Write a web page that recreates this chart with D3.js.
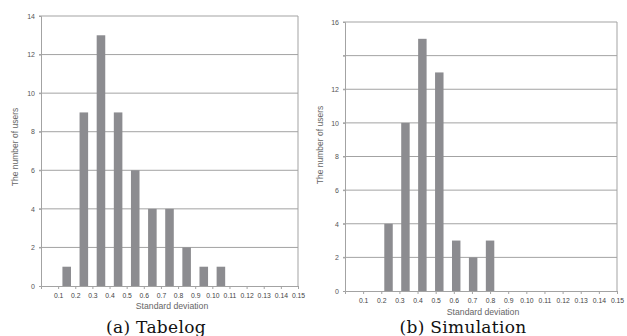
<!DOCTYPE html>
<html>
<head>
<meta charset="utf-8">
<script src="https://cdn.jsdelivr.net/npm/d3@7"></script>
<style>
  body { margin: 0; background: #fff; }
  text { font-family: "Liberation Sans", Arial, sans-serif; }
</style>
</head>
<body>
<div id="chart"></div>
<script>
// x categories (standard deviation bins), as printed on the axis
const sdLabels = ["0.1","0.2","0.3","0.4","0.5","0.6","0.7","0.8","0.9","0.10","0.11","0.12","0.13","0.14","0.15"];
// number of users per bin
const tabelogCounts = [1, 9, 13, 9, 6, 4, 4, 2, 1, 1, 0, 0, 0, 0];
const simulationCounts = [0, 4, 10, 15, 13, 3, 2, 3, 0, 0, 0, 0, 0, 0, 0];
const tabelogYTicks = [0, 2, 4, 6, 8, 10, 12, 14];
const simulationYTicks = [0, 2, 4, 6, 8, 10, 12, 14, 16];
const simulationHiddenTicks = [14];

const svg = d3.select("#chart")
  .append("svg")
  .attr("width", 627)
  .attr("height", 336);

function drawPanel(opt){
  const x = d3.scaleLinear()
    .domain([0, sdLabels.length])
    .range([opt.left, opt.right]);
  const y = d3.scaleLinear()
    .domain([0, d3.max(opt.yTicks)])
    .range([opt.bottom, opt.top]);

  // bars sit in their own bands, starting at the first label
  const band = d3.scaleBand()
    .domain(sdLabels.slice(0, opt.counts.length))
    .range([x(1), x(sdLabels.length)])
    .paddingInner(0.5)
    .paddingOuter(0.25);

  const g = svg.append("g");

  // gridlines
  g.selectAll(".grid")
    .data(opt.yTicks.filter(d => d > 0))
    .enter().append("line")
    .attr("x1", opt.left - 2)
    .attr("x2", opt.right)
    .attr("y1", d => y(d))
    .attr("y2", d => y(d))
    .attr("stroke", "#a3a3a3")
    .attr("stroke-width", 1);

  // right border
  g.append("line")
    .attr("x1", opt.right).attr("x2", opt.right)
    .attr("y1", opt.top).attr("y2", opt.bottom)
    .attr("stroke", "#a3a3a3");

  // bars
  g.selectAll(".bar")
    .data(opt.counts.map((v, i) => ({key: sdLabels[i], value: v})).filter(d => d.value > 0))
    .enter().append("rect")
    .attr("x", d => band(d.key))
    .attr("width", band.bandwidth())
    .attr("y", d => y(d.value))
    .attr("height", d => y(0) - y(d.value))
    .attr("fill", "#8c8c90");

  // y axis
  const yAxis = d3.axisLeft(y)
    .tickValues(opt.yTicks)
    .tickSize(2)
    .tickPadding(4)
    .tickFormat(d => opt.hidden.includes(d) ? "" : d);
  const ya = g.append("g")
    .attr("transform", "translate(" + opt.left + ",0)")
    .call(yAxis);
  ya.select(".domain").attr("stroke", "#a3a3a3");
  ya.selectAll(".tick line").attr("stroke", "#a3a3a3");
  ya.selectAll(".tick text")
    .attr("fill", "#555")
    .style("font-size", "7px")
    .style("font-family", "Liberation Sans, Arial, sans-serif");

  // x axis
  const xAxis = d3.axisBottom(x)
    .tickValues(d3.range(1, sdLabels.length + 1))
    .tickSize(3)
    .tickPadding(4)
    .tickFormat(d => sdLabels[d - 1]);
  const xa = g.append("g")
    .attr("transform", "translate(0," + opt.bottom + ")")
    .call(xAxis);
  xa.select(".domain").attr("stroke", "#a3a3a3");
  xa.selectAll(".tick line").attr("stroke", "#a3a3a3");
  xa.selectAll(".tick text")
    .attr("fill", "#444")
    .style("font-size", "6.8px")
    .style("font-family", "Liberation Sans, Arial, sans-serif");

  // axis titles
  g.append("text")
    .attr("transform", "translate(" + opt.yTitleX + "," + opt.yTitleY + ") rotate(-90)")
    .attr("text-anchor", "middle")
    .attr("fill", "#666")
    .style("font-size", "8.5px")
    .text("The number of users");

  g.append("text")
    .attr("x", opt.xTitleX)
    .attr("y", opt.xTitleY)
    .attr("text-anchor", "middle")
    .attr("fill", "#666")
    .style("font-size", "8.7px")
    .text("Standard deviation");

  // caption
  g.append("text")
    .attr("x", opt.capX)
    .attr("y", 333)
    .attr("text-anchor", "middle")
    .attr("fill", "#111")
    .style("font-family", "DejaVu Serif, serif")
    .style("font-size", "17px")
    .style("letter-spacing", "0.3px")
    .text(opt.caption);
}

drawPanel({
  left: 41, right: 298, top: 16, bottom: 286,
  counts: tabelogCounts, yTicks: tabelogYTicks, hidden: [],
  yTitleX: 18, yTitleY: 147,
  xTitleX: 172, xTitleY: 309,
  capX: 156, caption: "(a) Tabelog"
});

drawPanel({
  left: 345, right: 617, top: 22, bottom: 291,
  counts: simulationCounts, yTicks: simulationYTicks, hidden: simulationHiddenTicks,
  yTitleX: 323, yTitleY: 145,
  xTitleX: 483, xTitleY: 314.5,
  capX: 463, caption: "(b) Simulation"
});
</script>
</body>
</html>
